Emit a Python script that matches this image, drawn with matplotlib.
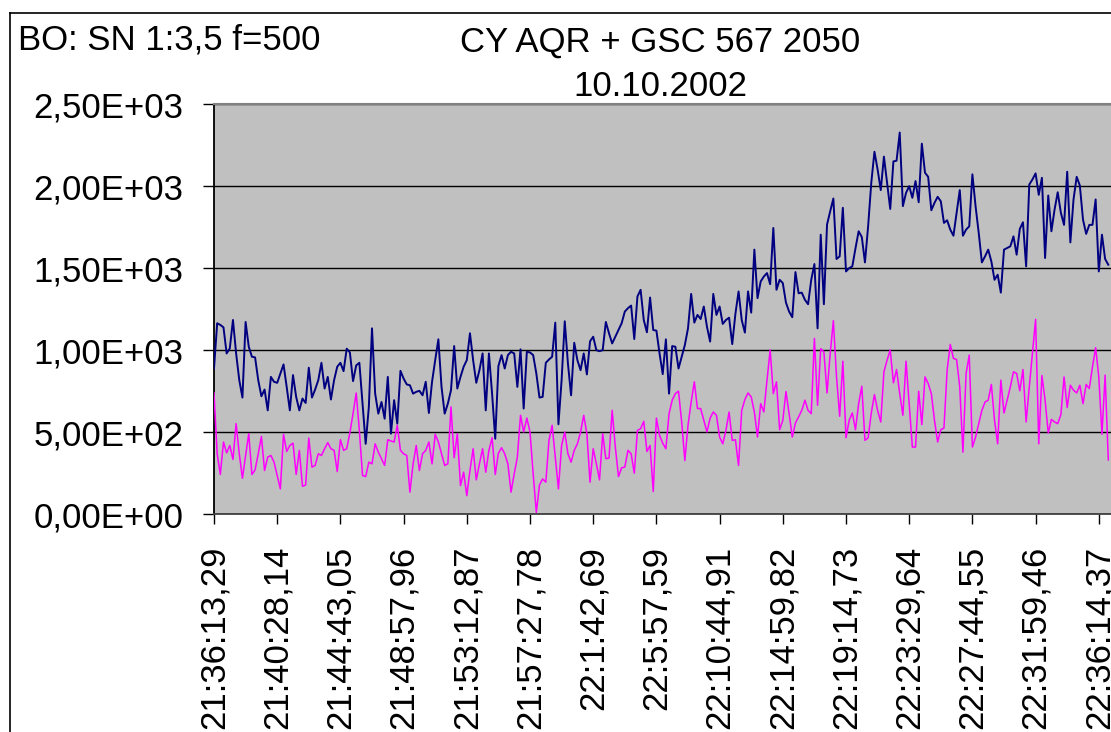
import matplotlib
matplotlib.use("Agg")
import matplotlib.pyplot as plt
from matplotlib.lines import Line2D
from matplotlib.ticker import FuncFormatter, MultipleLocator

plt.rcParams['font.family'] = ['Liberation Sans', 'DejaVu Sans']

# CY AQR counts (navy) and comparison star GSC 567 2050 (magenta), one value per frame
cy_aqr = [
    887, 1163, 1153, 1138, 979, 1010, 1183, 979, 816, 710,
    1171, 1020, 959, 955, 816, 718, 759, 632, 836, 806,
    800, 857, 912, 775, 632, 847, 714, 632, 704, 677,
    892, 710, 759, 816, 922, 765, 836, 698, 816, 898,
    922, 871, 1008, 985, 810, 906, 922, 673, 428, 653,
    1132, 734, 612, 683, 581, 836, 490, 694, 551, 873,
    826, 790, 785, 734, 745, 751, 724, 806, 616, 806,
    938, 1065, 775, 612, 673, 755, 1024, 765, 836, 898,
    938, 1102, 938, 800, 877, 979, 632, 979, 734, 459,
    902, 969, 887, 969, 989, 979, 775, 1004, 643, 989,
    985, 969, 857, 710, 714, 922, 942, 959, 1167, 547,
    816, 1175, 918, 724, 1044, 938, 877, 979, 851, 1053,
    1081, 999, 993, 999, 1171, 1102, 1040, 1081, 1122, 1163,
    1234, 1255, 1271, 1067, 1326, 1367, 1183, 1108, 1320, 1122,
    1118, 979, 853, 1065, 734, 1024, 1020, 887, 959, 1030,
    1132, 1342, 1167, 1214, 1189, 1265, 1142, 1051, 1342, 1214,
    1265, 1159, 1183, 1197, 1036, 1220, 1357, 1183, 1106, 1357,
    1228, 1612, 1316, 1418, 1448, 1469, 1401, 1744, 1367, 1428,
    1408, 1289, 1234, 1200, 1475, 1346, 1350, 1306, 1279, 1428,
    1524, 1132, 1703, 1279, 1765, 1846, 1924, 1555, 1571, 1867,
    1479, 1499, 1510, 1620, 1724, 1689, 1534, 1754, 2020, 2209,
    2101, 1975, 2179, 2020, 1860, 2150, 2154, 2326, 1877, 1958,
    1999, 1928, 2030, 1901, 2258, 2081, 2056, 1852, 1897, 1934,
    1907, 1775, 1791, 1734, 1697, 1836, 1975, 1697, 1734, 1754,
    2071, 1877, 1714, 1534, 1571, 1612, 1540, 1428, 1459, 1350,
    1612, 1622, 1632, 1693, 1581, 1738, 1779, 1510, 2009, 2040,
    2077, 1946, 2050, 1561, 1942, 1724, 1856, 1962, 1836, 1763,
    2087, 1656, 1918, 2056, 2003, 1795, 1708, 1763, 1763, 1918,
    1479, 1703, 1555, 1520,
]

gsc_567 = [
    738, 367, 241, 439, 373, 418, 333, 551, 367, 218,
    357, 490, 241, 269, 367, 473, 265, 347, 357, 316,
    235, 153, 486, 381, 418, 432, 241, 388, 169, 177,
    463, 286, 296, 367, 357, 398, 435, 398, 388, 259,
    453, 388, 398, 496, 612, 738, 510, 235, 228, 316,
    306, 428, 377, 337, 296, 453, 445, 439, 541, 388,
    367, 357, 133, 306, 418, 265, 367, 388, 439, 306,
    486, 439, 367, 296, 306, 653, 343, 490, 173, 255,
    112, 265, 398, 208, 306, 398, 255, 388, 465, 241,
    371, 404, 367, 306, 133, 245, 347, 602, 500, 585,
    500, 245, 10, 177, 214, 194, 449, 541, 347, 153,
    418, 500, 367, 316, 388, 428, 500, 602, 490, 194,
    398, 306, 208, 490, 337, 341, 632, 408, 228, 282,
    286, 388, 367, 249, 510, 520, 565, 381, 418, 137,
    585, 479, 432, 398, 612, 694, 734, 749, 561, 326,
    541, 683, 806, 643, 643, 571, 500, 585, 622, 602,
    469, 428, 510, 622, 449, 453, 296, 632, 698, 738,
    714, 622, 469, 673, 622, 816, 1000, 734, 806, 514,
    571, 747, 612, 469, 555, 592, 632, 694, 632, 612,
    1071, 663, 1008, 989, 738, 979, 1179, 836, 596, 932,
    465, 571, 616, 514, 673, 779, 449, 465, 616, 728,
    632, 561, 867, 938, 1000, 800, 881, 734, 602, 932,
    673, 408, 408, 749, 545, 836, 796, 734, 571, 439,
    514, 524, 877, 1034, 949, 942, 775, 377, 857, 969,
    408, 469, 551, 632, 683, 694, 790, 571, 428, 816,
    616, 694, 775, 867, 857, 751, 881, 561, 775, 979,
    1187, 428, 844, 694, 494, 577, 561, 551, 606, 836,
    649, 785, 755, 738, 785, 673, 790, 765, 898, 1014,
    836, 486, 847, 330,
]

# category labels shown every 20 frames
time_labels = [
    "21:36:13,29", "21:40:28,14", "21:44:43,05", "21:48:57,96",
    "21:53:12,87", "21:57:27,78", "22:1:42,69", "22:5:57,59",
    "22:10:44,91", "22:14:59,82", "22:19:14,73", "22:23:29,64",
    "22:27:44,55", "22:31:59,46", "22:36:14,37",
]
label_step = 20

W, H = 1111, 732
fig = plt.figure(figsize=(W / 100, H / 100), dpi=100)

# plot area: left edge 214 px, runs off the right side of the picture
left_px, top_px, bottom_px = 214, 104, 514
px_per_frame = 63.2 / label_step
right_frac = 1.01
ax_w_px = right_frac * W - left_px
ax = fig.add_axes([left_px / W, (H - bottom_px) / H,
                   ax_w_px / W, (bottom_px - top_px) / H])
ax.set_facecolor('#C0C0C0')

frames = range(len(cy_aqr))
ax.plot(frames, cy_aqr, color='#000080', lw=1.4, zorder=3)
ax.plot(range(len(gsc_567)), gsc_567, color='#FF00FF', lw=1.1, zorder=3)

ax.set_xlim(0, ax_w_px / px_per_frame)
ax.set_ylim(0, 2500)

# y axis in Excel-style scientific notation with decimal comma
ax.yaxis.set_major_locator(MultipleLocator(500))
ax.yaxis.set_major_formatter(FuncFormatter(lambda v, p: f"{v:.2E}".replace('.', ',')))
ax.grid(axis='y', color='black', lw=1.0, zorder=1)
ax.set_axisbelow(True)

ax.set_xticks([i * label_step for i in range(len(time_labels))])
ax.set_xticklabels(time_labels, rotation=90, va='top', ha='center')

ax.tick_params(axis='y', direction='out', length=8, width=1, pad=14, labelsize=25)
ax.tick_params(axis='x', direction='out', length=7, width=1, pad=16, labelsize=25)

ax.spines['right'].set_visible(False)
ax.spines['top'].set_color('#808080')
ax.spines['top'].set_linewidth(1.5)
ax.spines['left'].set_color('black')
ax.spines['left'].set_linewidth(1.3)
ax.spines['bottom'].set_color('#404040')
ax.spines['bottom'].set_linewidth(1.3)

# titles
fig.text(18 / W, 1 - 40 / H, "BO: SN 1:3,5 f=500", ha='left', va='center', fontsize=25)
fig.text(660 / W, 1 - 42 / H, "CY AQR + GSC 567 2050", ha='center', va='center', fontsize=25)
fig.text(660 / W, 1 - 86 / H, "10.10.2002", ha='center', va='center', fontsize=25)

# chart area outline (top and left edges visible in the crop)
fig.add_artist(Line2D([10 / W, 1.02], [1 - 13 / H, 1 - 13 / H], color='black', lw=1.2,
                      transform=fig.transFigure))
fig.add_artist(Line2D([10 / W, 10 / W], [1 - 13 / H, -0.02], color='black', lw=1.2,
                      transform=fig.transFigure))

fig.savefig("out.png", dpi=100)
